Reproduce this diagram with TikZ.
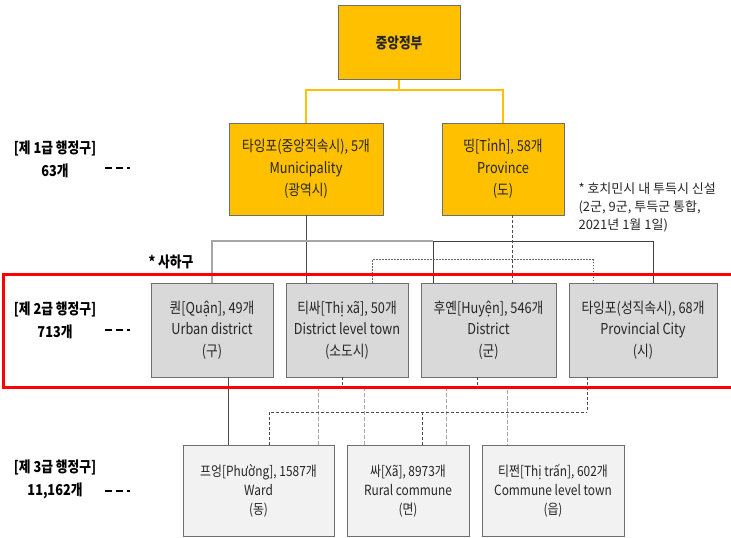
\documentclass[tikz,border=0pt]{standalone}
\usepackage{fontspec}
\setmainfont{Noto Sans CJK KR}[FakeStretch=0.85]
\newfontfamily\notefont{Noto Sans CJK KR}
\definecolor{govyellow}{HTML}{FFC000}
\definecolor{distgray}{HTML}{D9D9D9}
\definecolor{wardgray}{HTML}{F2F2F2}
\definecolor{boxline}{HTML}{6E6E6E}
\definecolor{textgray}{HTML}{262626}
\begin{document}
\begin{tikzpicture}
[x=1pt,y=-1pt,
  govbox/.style={draw=boxline,fill=govyellow,text=textgray,minimum width=122,minimum height=74,font=\fontsize{15}{22}\selectfont\bfseries},%
  onebox/.style={draw=boxline,fill=govyellow,text=textgray,align=center,minimum height=92,font=\fontsize{15}{22}\selectfont},%
  twobox/.style={draw=boxline,fill=distgray,text=textgray,align=center,minimum height=94,font=\fontsize{15}{21.5}\selectfont},%
  threebox/.style={draw=boxline,fill=wardgray,text=textgray,align=center,minimum height=91,font=\fontsize{14}{19}\selectfont},%
  tierlabel/.style={align=center,font=\fontsize{15}{23}\selectfont\bfseries},%
  tiermark/.style={line width=2pt,dash pattern=on 7pt off 4pt},%
  yellowline/.style={draw=govyellow,line width=2pt},%
  greyline/.style={draw=gray!70,line width=1.8pt},%
  darkline/.style={draw=black!75,line width=0.9pt},%
  thinline/.style={draw=black!70,line width=0.7pt},%
  dashline/.style={draw=black!70,line width=0.7pt,dash pattern=on 3pt off 2pt},%
  lightdash/.style={draw=gray!70,line width=0.9pt,dash pattern=on 4pt off 2pt},%
  dotline/.style={draw=black!60,line width=0.7pt,dash pattern=on 1.5pt off 1.5pt},%
  redframe/.style={draw=red,line width=3pt}]
\useasboundingbox (0,0) rectangle (731,538);
%% nodes or boxes
\node (gov) at (399,42.5) [govbox] {중앙정부};
\foreach \nodename/\x/\w/\txt in {muni/306/154/{타잉포(중앙직속시), 5개\\Municipality\\(광역시)},
  prov/503/122/{띵[Tỉnh], 58개\\Province\\(도)}} {
  \node (\nodename) at (\x,169) [onebox,minimum width=\w] {\txt};
}
\foreach \nodename/\x/\w/\txt in {quan/212/122/{퀀[Quận], 49개\\Urban district\\(구)},
  thixa/347/122/{티싸[Thị xã], 50개\\District level town\\(소도시)},
  huyen/488.5/135/{후옌[Huyện], 546개\\District\\(군)},
  tp/643/148/{타잉포(성직속시), 68개\\Provincial City\\(시)}} {
  \node (\nodename) at (\x,330) [twobox,minimum width=\w] {\txt};
}
\foreach \nodename/\x/\w/\txt in {phuong/258.5/151/{프엉[Phường], 1587개\\Ward\\(동)},
  xa/408/122/{싸[Xã], 8973개\\Rural commune\\(면)},
  thitran/553/142/{티쩐[Thị trấn], 602개\\Commune level town\\(읍)}} {
  \node (\nodename) at (\x,491) [threebox,minimum width=\w] {\txt};
}
%% tier labels
\foreach \nodename/\y/\txt in {tierone/159.5/{[제 1급 행정구]\\63개},
  tiertwo/320.5/{[제 2급 행정구]\\713개},
  tierthree/479.5/{[제 3급 행정구]\\11,162개}} {
  \node (\nodename) at (55,\y) [tierlabel] {\txt};
}
\foreach \y in {168,330,491} {
  \draw[tiermark] (105,\y) -- (130,\y);
}
\node (sahagu) at (171,262) [font=\fontsize{15}{16}\selectfont\bfseries] {* 사하구};
\node (hcmcnote) at (575,207) [anchor=west,align=left,text=textgray,
  font=\notefont\fontsize{13}{18}\selectfont] {* 호치민시 내 투득시 신설\\(2군, 9군, 투득군 통합,\\2021년 1월 1일)};
%% edges or lines
\draw[yellowline] (gov.south) -- ++(0,10.5) coordinate (govjoin);
\draw[yellowline] (muni.north) |- (govjoin) -| (prov.north);
\draw[thinline] (muni.south) -- (muni.south |- thixa.north);
\coordinate (barmid) at (433,241);
\draw[greyline] (quan.north) |- (barmid);
\draw[darkline] ([xshift=-55.5pt]huyen.north) -- (barmid) -| ([xshift=10pt]tp.north);
\draw[dashline] ([xshift=9pt]prov.south) coordinate (provdrop) -- (provdrop |- huyen.north);
\draw[dotline] ([xshift=25pt]thixa.north) -- ++(0,-23) -| ([xshift=-50pt]tp.north);
\draw[thinline] ([xshift=16pt]quan.south) coordinate (quandrop) -- (quandrop |- phuong.north);
\draw[dashline] ([xshift=-5pt]thixa.south) -- ++(0,11) coordinate (thixabar);
\draw[lightdash] ([xshift=59.5pt]phuong.north) |- (thixabar) -| ([xshift=-44pt]xa.north);
\draw[dashline] ([xshift=-11.5pt]huyen.south) -- ++(0,11) coordinate (huyenbar);
\draw[lightdash] ([xshift=38pt]xa.north) |- (huyenbar) -| ([xshift=-46pt]thitran.north);
\draw[dashline] ([xshift=-56pt]tp.south) -- ++(0,35) coordinate (tpbar);
\draw[dashline] ([xshift=10.5pt]phuong.north) |- (tpbar);
\draw[dashline] ([xshift=14pt]xa.north) coordinate (xadrop) -- (xadrop |- tpbar);
%% frame round the second tier
\draw[redframe] (3,274) rectangle (740,387);
\end{tikzpicture}
\end{document}
